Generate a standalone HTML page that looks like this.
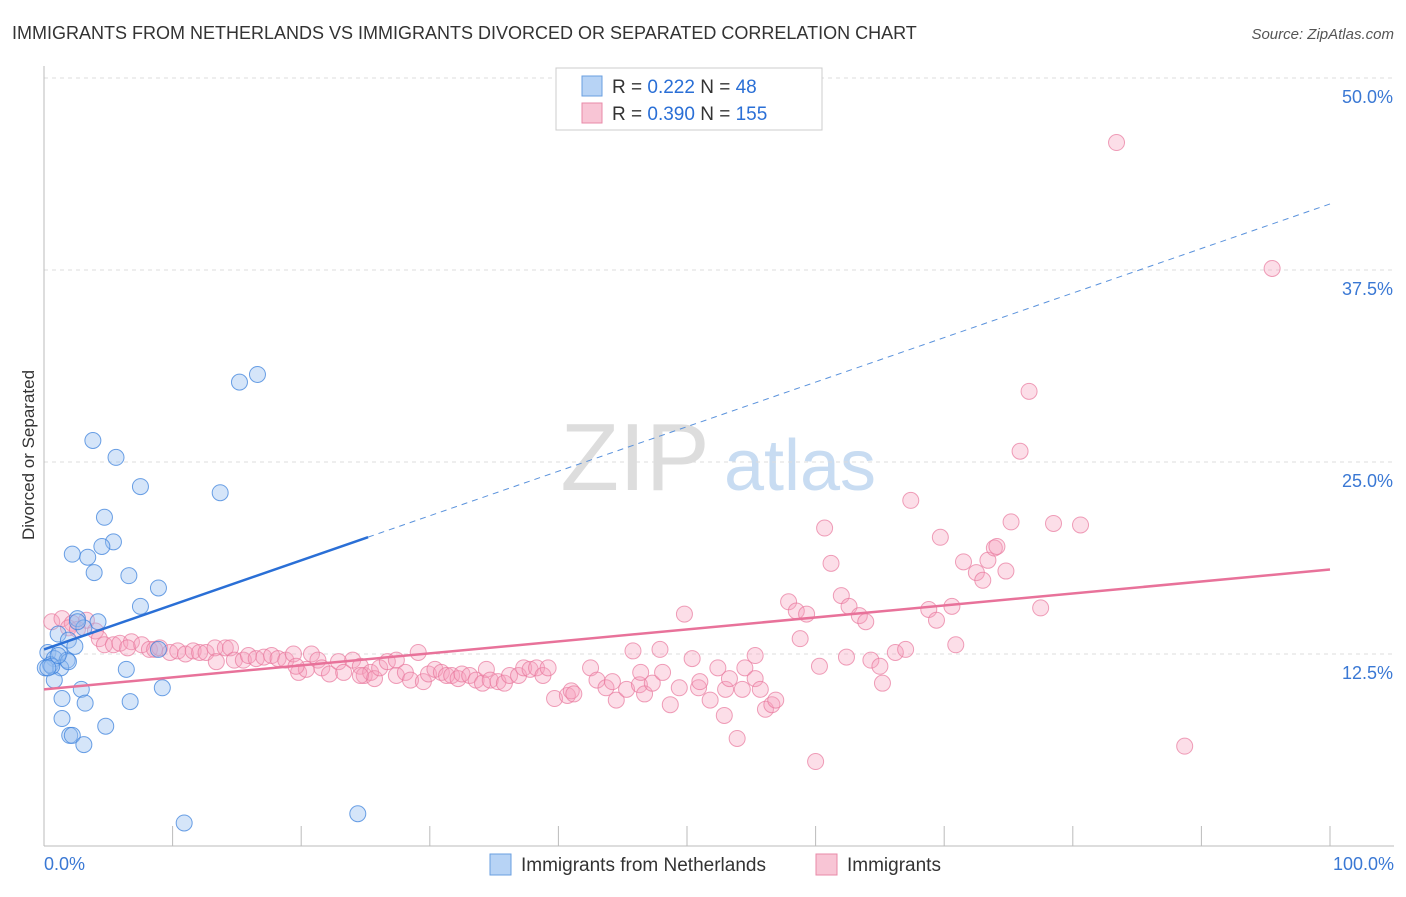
<!DOCTYPE html>
<html><head><meta charset="utf-8"><style>
body{margin:0;background:#fff;font-family:"Liberation Sans",sans-serif;}
svg text{font-family:"Liberation Sans",sans-serif;}
</style></head><body>
<svg id="chart" width="1406" height="892" xmlns="http://www.w3.org/2000/svg">
<text x="12" y="39" font-size="18" fill="#333">IMMIGRANTS FROM NETHERLANDS VS IMMIGRANTS DIVORCED OR SEPARATED CORRELATION CHART</text>
<text x="1394" y="39" font-size="15" fill="#555" text-anchor="end" font-style="italic">Source: ZipAtlas.com</text>
<g><text x="635" y="490" font-size="96" fill="#ddd" font-family="Liberation Serif" text-anchor="middle">ZIP</text><text x="800" y="490" font-size="72" fill="#c8dcf2" text-anchor="middle">atlas</text></g>
<g id="grid"></g><g id="axes"></g><g id="pts"></g><g id="lines"></g>
<text transform="translate(34,455) rotate(-90)" font-size="17" fill="#333" text-anchor="middle">Divorced or Separated</text>
<g>
<rect x="556" y="68" width="266" height="62" fill="#fff" stroke="#ccc"/>
<rect x="582" y="76" width="20" height="20" fill="#b7d3f5" stroke="#6a9fe0"/>
<rect x="582" y="103" width="20" height="20" fill="#f8c5d5" stroke="#e88aa8"/>
<text x="612" y="93" font-size="19" fill="#333">R = <tspan fill="#2a6fd6">0.222</tspan>   N = <tspan fill="#2a6fd6"> 48</tspan></text>
<text x="612" y="120" font-size="19" fill="#333">R = <tspan fill="#2a6fd6">0.390</tspan>   N = <tspan fill="#2a6fd6">155</tspan></text>
</g>
<g>
<rect x="490" y="854" width="21" height="21" fill="#b7d3f5" stroke="#6a9fe0"/>
<text x="521" y="871" font-size="19" fill="#333">Immigrants from Netherlands</text>
<rect x="816" y="854" width="21" height="21" fill="#f8c5d5" stroke="#e88aa8"/>
<text x="847" y="871" font-size="19" fill="#333">Immigrants</text>
</g>
</svg>
<script>
const blueX=[3.8,5.6,7.5,13.7,15.2,16.6,4.7,5.4,4.5,2.2,3.4,3.9,6.6,8.9,7.5,2.6,4.2,3.1,1.1,1.9,2.4,0.3,1.2,0.8,1.8,0.5,0.1,1.3,6.4,0.8,2.9,9.2,1.4,3.2,6.7,1.4,4.8,2.0,2.2,3.1,10.9,24.4,8.9,0.6,1.9,2.6,0.3,1.1];
const blueY=[26.4,25.3,23.4,23.0,30.2,30.7,21.4,19.8,19.5,19.0,18.8,17.8,17.6,16.8,15.6,14.8,14.6,14.2,13.8,13.4,13.0,12.6,12.6,12.2,12.1,11.8,11.6,11.6,11.5,10.8,10.2,10.3,9.6,9.3,9.4,8.3,7.8,7.2,7.2,6.6,1.5,2.1,12.8,11.7,12.0,14.6,11.6,12.4];
const pinkX=[0.6,1.4,2.2,3.3,1.9,4.0,2.6,4.3,4.7,5.4,5.9,6.8,6.5,7.6,8.2,8.6,9.0,9.8,10.4,11.0,11.6,12.1,12.6,13.3,14.1,14.5,13.4,14.8,15.5,15.9,16.5,17.1,17.7,18.2,18.8,19.4,19.8,20.4,20.8,21.3,21.6,22.2,22.9,23.3,24.0,24.6,24.9,25.4,25.7,26.1,26.7,27.4,28.1,28.5,29.1,29.5,29.9,30.4,30.9,31.3,31.7,32.2,32.5,33.1,33.6,34.1,34.4,34.7,35.3,35.8,36.2,36.9,37.3,37.8,38.3,38.8,39.2,27.4,24.6,19.6,
39.7,40.7,41.0,41.2,42.5,43.0,43.7,44.2,44.5,45.3,45.8,46.3,46.4,46.7,47.3,47.9,48.1,48.7,49.4,49.8,50.4,50.9,51.0,51.8,52.4,52.9,53.0,53.3,53.9,54.3,54.5,55.3,55.3,55.7,56.1,56.6,56.9,57.9,58.5,58.8,59.3,60.0,60.3,60.7,61.2,62.0,62.4,62.6,63.4,63.9,64.3,65.0,65.2,66.2,67.0,67.4,68.8,69.4,69.7,70.6,70.9,71.5,72.5,73.0,73.4,73.9,74.1,74.8,75.2,75.9,76.6,77.5,78.5,80.6,83.4,88.7,95.5];
const pinkY=[14.6,14.8,14.5,14.7,14.2,14.0,14.1,13.5,13.1,13.1,13.2,13.3,12.9,13.1,12.8,12.8,12.9,12.6,12.7,12.5,12.7,12.6,12.6,12.9,12.9,12.9,12.0,12.1,12.1,12.4,12.2,12.3,12.4,12.2,12.1,12.5,11.3,11.5,12.5,12.1,11.6,11.2,12.0,11.3,12.1,11.7,11.1,11.3,10.9,11.6,12.0,11.1,11.3,10.8,12.6,10.7,11.2,11.5,11.3,11.1,11.1,10.9,11.2,11.1,10.8,10.6,11.5,10.8,10.7,10.6,11.1,11.1,11.6,11.5,11.6,11.1,11.6,12.1,11.1,11.7,
9.6,9.8,10.1,9.9,11.6,10.8,10.3,10.7,9.5,10.2,12.7,10.5,11.3,9.9,10.6,12.8,11.3,9.2,10.3,15.1,12.2,10.3,10.7,9.5,11.6,8.5,10.2,10.9,7.0,10.2,11.6,12.4,10.9,10.2,8.9,9.2,9.5,15.9,15.3,13.5,15.1,5.5,11.7,20.7,18.4,16.3,12.3,15.6,15.0,14.6,12.1,11.7,10.6,12.6,12.8,22.5,15.4,14.7,20.1,15.6,13.1,18.5,17.8,17.3,18.6,19.4,19.5,17.9,21.1,25.7,29.6,15.5,21.0,20.9,45.8,6.5,37.6];
const blueTrend=[12.8,0.29]; // intercept, slope
const pinkTrend=[10.2,0.078];
const yTicks=[12.5,25.0,37.5,50.0];
const xTickVals=[0,10,20,30,40,50,60,70,80,90,100];
const NS="http://www.w3.org/2000/svg";
const X=v=>44+v*12.86, Y=v=>846-v*15.36;
function mk(p,t,a){const e=document.createElementNS(NS,t);for(const k in a)e.setAttribute(k,a[k]);p.appendChild(e);return e;}
const grid=document.getElementById('grid'),axes=document.getElementById('axes'),pts=document.getElementById('pts'),lines=document.getElementById('lines');
yTicks.forEach(v=>{
 const l=mk(grid,'line',{x1:44,x2:1394,y1:Y(v),y2:Y(v),stroke:'#ddd','stroke-dasharray':'4,4'});
 
 
 const t=mk(grid,'text',{x:1393,y:Y(v)+25,'font-size':18,fill:'#3a78d4','text-anchor':'end'});
 t.textContent=v.toFixed(1)+'%';
 
 
});
const ax=mk(axes,'line',{x1:44,x2:44,y1:66,y2:846,stroke:'#bbb'});


const bx=mk(axes,'line',{x1:44,x2:1394,y1:846,y2:846,stroke:'#bbb'});


xTickVals.forEach(v=>{
 const t=mk(axes,'line',{x1:X(v),x2:X(v),y1:826,y2:846,stroke:'#bbb'});
 
 
});
[[0,'0.0%','start',44],[100,'100.0%','end',1394]].forEach(a=>{
 const t=mk(axes,'text',{x:a[3],y:870,'font-size':18,fill:'#3a78d4','text-anchor':a[2]});
 t.textContent=a[1];
 
 
});
pinkX.forEach((x,i)=>{
 const c=mk(pts,'circle',{cx:X(x),cy:Y(pinkY[i]),r:8,fill:'rgba(245,160,188,0.35)',stroke:'rgba(232,120,156,0.7)','stroke-width':1});
 
 
});
blueX.forEach((x,i)=>{
 const c=mk(pts,'circle',{cx:X(x),cy:Y(blueY[i]),r:8,fill:'rgba(150,190,240,0.4)',stroke:'rgba(60,130,220,0.75)','stroke-width':1});
 
 
});
const bEnd=25.2;
const b1=mk(lines,'line',{x1:X(0),y1:Y(blueTrend[0]),x2:X(bEnd),y2:Y(blueTrend[0]+blueTrend[1]*bEnd),stroke:'#2a6fd6','stroke-width':2.5});


const b2=mk(lines,'line',{x1:X(bEnd),y1:Y(blueTrend[0]+blueTrend[1]*bEnd),x2:X(100),y2:Y(blueTrend[0]+blueTrend[1]*100),stroke:'#5a92dc','stroke-width':1,'stroke-dasharray':'6,5'});


const p1=mk(lines,'line',{x1:X(0),y1:Y(pinkTrend[0]),x2:X(100),y2:Y(pinkTrend[0]+pinkTrend[1]*100),stroke:'#e8729a','stroke-width':2.5});


</script>
</body></html>
